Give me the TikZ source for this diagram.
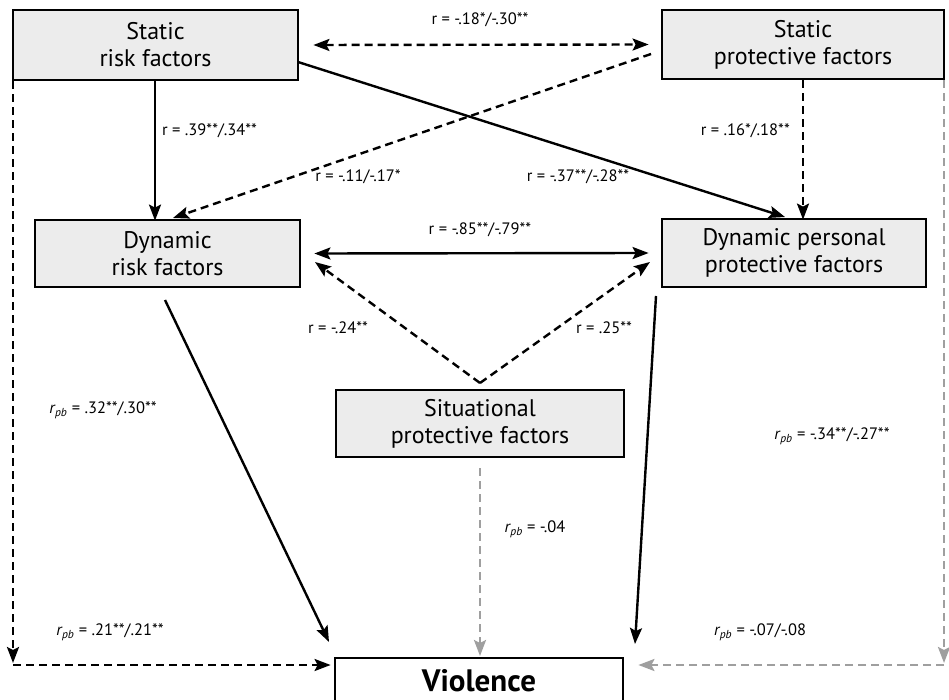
\documentclass[tikz,border=0pt]{standalone}
\usepackage{fontspec}
\setmainfont{PT Sans}
\usetikzlibrary{arrows.meta}
\newcommand{\rpb}{\textit{r}\textsubscript{\kern-0.5pt\textit{pb}}}
\begin{document}
\begin{tikzpicture}[x=1pt,y=-1pt,
  box/.style={draw=black,line width=2.8pt,fill=gray!15,align=center,inner sep=0pt,font=\fontsize{24}{27}\selectfont},
  lbl/.style={font=\fontsize{16.5}{18}\selectfont,inner sep=1pt},
  con/.style={line width=2.4pt,-{Stealth[length=16pt,width=12pt,inset=3pt]}},
  dcon/.style={con,dash pattern=on 8pt off 5pt},
  gcon/.style={dcon,draw=gray!75,-{Stealth[length=16pt,width=12pt,inset=3pt,gray!75]}},
  bcon/.style={con,{Stealth[length=16pt,width=12pt,inset=3pt]}-{Stealth[length=16pt,width=12pt,inset=3pt]}},
  bdcon/.style={bcon,dash pattern=on 8pt off 5pt}]
\useasboundingbox (0,0) rectangle (949,700);
\node[box,minimum width=285pt,minimum height=70pt] (sr) at (155.5,45) {Static\\risk factors};
\node[box,minimum width=282pt,minimum height=69pt] (sp) at (803,44.5) {Static\\protective factors};
\node[box,minimum width=265pt,minimum height=67pt] (dr) at (167.5,253.5) {Dynamic\\risk factors};
\node[box,minimum width=264pt,minimum height=68pt] (dp) at (794,253) {Dynamic personal\\protective factors};
\node[box,minimum width=288pt,minimum height=67pt] (sit) at (480,423.5) {Situational\\protective factors};
\node[box,fill=white,minimum width=288pt,minimum height=46pt,font=\fontsize{31}{33}\selectfont\bfseries] (vio) at (479,681) {Violence};
% coordinates
\coordinate (apex) at (480,383);
\coordinate (lc) at (13,665);
\coordinate (rc) at (944,665);
% top double arrow
\draw[bdcon] ([xshift=14pt]sr.east) -- ([xshift=-12pt]sp.west);
\node[lbl] (l1) at (480,20) {r = -.18*/-.30**};
% verticals
\draw[con] (sr.south -| 155,0) -- ([yshift=-2pt]dr.north -| 155,0);
\node[lbl,anchor=west] (l2) at (161,131) {r = .39**/.34**};
\draw[dcon] (sp.south -| 803,0) -- ([yshift=-2pt]dp.north -| 803,0);
\node[lbl,anchor=east] (l3) at (791,131) {r = .16*/.18**};
% diagonals
\draw[con] (298,62) -- (785,217);
\node[lbl] (l4) at (578,177) {r = -.37**/-.28**};
\draw[dcon] (651,54) -- (173,218);
\node[lbl] (l5) at (358,177) {r = -.11/-.17*};
% middle double arrow
\draw[bcon] ([xshift=13pt]dr.east) -- ([xshift=-12pt]dp.west);
\node[lbl] (l6) at (480,230) {r = -.85**/-.79**};
% situational V
\draw[dcon] (apex) -- (315,262);
\draw[dcon] (apex) -- (650,262);
\node[lbl] (l7) at (338,328) {r = -.24**};
\node[lbl] (l8) at (604,328) {r = .25**};
% to violence
\draw[con] (165,300) -- (329,642);
\node[lbl] (l9) at (103,410) {\rpb{} = .32**/.30**};
\draw[con] (656,296) -- (635,644);
\node[lbl] (l10) at (832,436) {\rpb{} = -.34**/-.27**};
\draw[gcon] (sit.south -| 480,0) ++(0,10) -- (480,656);
\node[lbl] (l11) at (535,529) {\rpb{} = -.04};
% left L
\draw[dcon] (sr.south -| 13,0) -- ([yshift=2pt]lc);
\draw[dcon] (lc) -- ([xshift=-3pt]vio.west |- lc);
\node[lbl] (l12) at (110,632) {\rpb{} = .21**/.21**};
% right L
\draw[gcon] (sp.south -| 944,0) -- ([yshift=2pt]rc);
\draw[gcon] (rc) -- ([xshift=14pt]vio.east |- rc);
\node[lbl] (l13) at (760,632) {\rpb{} = -.07/-.08};
\end{tikzpicture}
\end{document}
